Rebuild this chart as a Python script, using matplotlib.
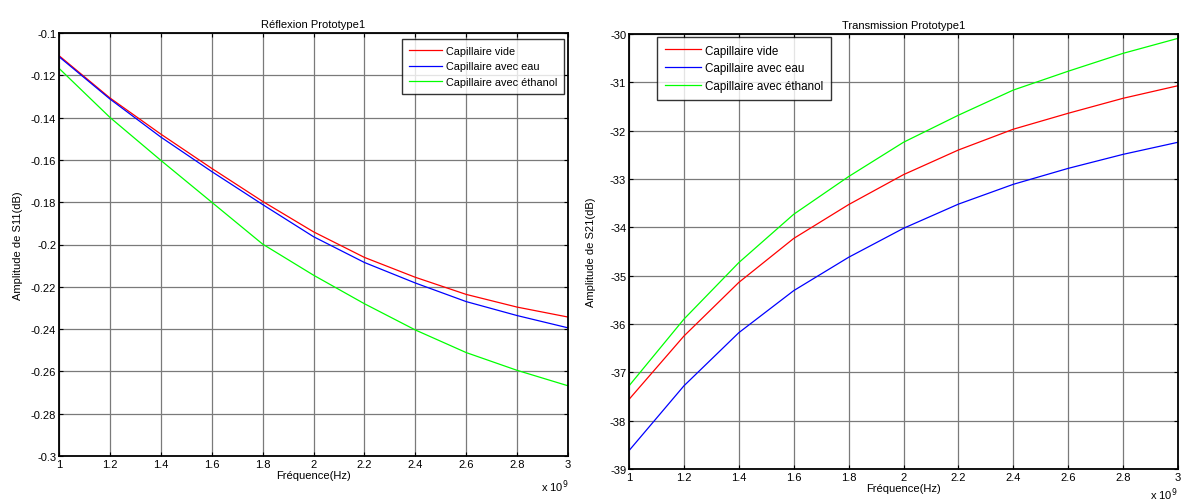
import matplotlib
matplotlib.use("Agg")
import matplotlib.pyplot as plt
import numpy as np

plt.rcParams['font.family'] = ['Liberation Sans', 'DejaVu Sans']

freq_ghz = [1.0, 1.2, 1.4, 1.6, 1.8, 2.0, 2.2, 2.4, 2.6, 2.8, 3.0]

s11_vide = [-0.1107, -0.1307, -0.1478, -0.1640, -0.1796, -0.1940, -0.2061, -0.2155, -0.2236, -0.2296, -0.2343]
s11_eau = [-0.1112, -0.1312, -0.1492, -0.1655, -0.1811, -0.1963, -0.2085, -0.2182, -0.2270, -0.2336, -0.2394]
s11_ethanol = [-0.1167, -0.1399, -0.1602, -0.1800, -0.1998, -0.2145, -0.2280, -0.2404, -0.2511, -0.2595, -0.2668]

s21_vide = [-37.56, -36.25, -35.14, -34.23, -33.53, -32.91, -32.40, -31.97, -31.64, -31.33, -31.07]
s21_eau = [-38.62, -37.28, -36.18, -35.31, -34.62, -34.02, -33.52, -33.11, -32.78, -32.49, -32.24]
s21_ethanol = [-37.28, -35.90, -34.73, -33.73, -32.95, -32.24, -31.68, -31.16, -30.77, -30.40, -30.09]

labels = ['Capillaire vide', 'Capillaire avec eau', 'Capillaire avec éthanol']
colors = ['#ff0000', '#0000ff', '#00ff00']

xticks = [1.0, 1.2, 1.4, 1.6, 1.8, 2.0, 2.2, 2.4, 2.6, 2.8, 3.0]
xticklabels = ['1', '1.2', '1.4', '1.6', '1.8', '2', '2.2', '2.4', '2.6', '2.8', '3']
yticks_left = [-0.3, -0.28, -0.26, -0.24, -0.22, -0.2, -0.18, -0.16, -0.14, -0.12, -0.1]
yticklabels_left = ['-0.3', '-0.28', '-0.26', '-0.24', '-0.22', '-0.2', '-0.18', '-0.16', '-0.14', '-0.12', '-0.1']
yticks_right = [-39, -38, -37, -36, -35, -34, -33, -32, -31, -30]

W, H = 1184, 502
fig = plt.figure(figsize=(W / 100, H / 100), dpi=100)

def make_ax(x0, y0, x1, y1):
    return fig.add_axes([x0 / W, 1 - y1 / H, (x1 - x0) / W, (y1 - y0) / H])

ax1 = make_ax(59, 34, 568, 457)
ax2 = make_ax(629, 35, 1178, 470)

fs = 8

def style(ax):
    ax.grid(True, color='#7a7a7a', linewidth=0.9)
    ax.set_axisbelow(True)
    for sp in ax.spines.values():
        sp.set_linewidth(1.3)
        sp.set_color('black')
    ax.tick_params(direction='in', length=3, width=0.8, labelsize=fs,
                   top=True, right=True, pad=2)
    ax.set_xlim(1, 3)
    ax.set_xticks(xticks)
    ax.set_xticklabels(xticklabels)

for ax, series in [(ax1, [s11_vide, s11_eau, s11_ethanol]),
                   (ax2, [s21_vide, s21_eau, s21_ethanol])]:
    for y, lab, c in zip(series, labels, colors):
        ax.plot(freq_ghz, y, color=c, linewidth=0.9, label=lab)
    style(ax)

ax1.set_ylim(-0.3, -0.1)
ax1.set_yticks(yticks_left)
ax1.set_yticklabels(yticklabels_left)
ax2.set_ylim(-39, -30)
ax2.set_yticks(yticks_right)
ax2.set_yticklabels([str(v) for v in yticks_right])

ax1.set_title('Réflexion Prototype1', fontsize=fs, pad=4)
ax2.set_title('Transmission Prototype1', fontsize=fs, pad=4)
ax1.set_xlabel('Fréquence(Hz)', fontsize=fs, labelpad=1)
ax2.set_xlabel('Fréquence(Hz)', fontsize=fs, labelpad=1)
ax1.set_ylabel('Amplitude de S11(dB)', fontsize=fs, labelpad=6)
ax2.set_ylabel('Amplitude de S21(dB)', fontsize=fs, labelpad=10)

fig.text(555 / W, 1 - 487 / H, r'x 10$^{9}$', fontsize=fs, ha='center', va='center')
fig.text(1164 / W, 1 - 495 / H, r'x 10$^{9}$', fontsize=fs, ha='center', va='center')

leg_kw = dict(frameon=True, fancybox=False, edgecolor='black',
              borderpad=0.65, labelspacing=0.5, handletextpad=0.4,
              borderaxespad=0)
l1 = ax1.legend(loc='upper left', bbox_to_anchor=((402 - 59) / 509, 1 - (40 - 34) / 423),
                fontsize=7.8, handlelength=3.0, **leg_kw)
l2 = ax2.legend(loc='upper left', bbox_to_anchor=((657 - 629) / 549, 1 - (38 - 35) / 435),
                fontsize=8.4, handlelength=3.1, **leg_kw)
for l in (l1, l2):
    l.get_frame().set_linewidth(1.0)

fig.savefig('out.png', dpi=100)
